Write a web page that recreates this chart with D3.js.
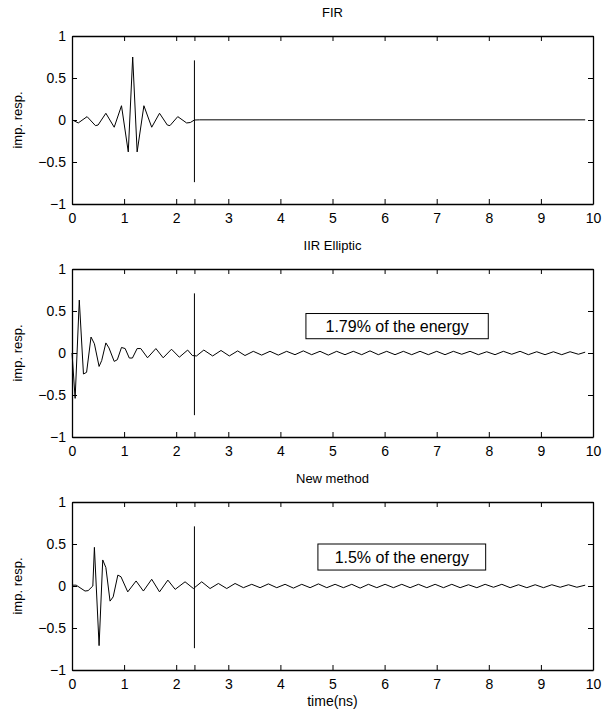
<!DOCTYPE html>
<html>
<head>
<meta charset="utf-8">
<script src="https://cdn.jsdelivr.net/npm/d3@7"></script>
<style>
  body { margin: 0; background: #fff; }
  svg { display: block; }
  text { font-family: "Liberation Sans", Arial, sans-serif; fill: #000; }
</style>
</head>
<body>
<div id="chart"></div>
<script>
// 1. DATA
const panelTitles = ["FIR", "IIR Elliptic", "New method"]
const yLabel = "imp. resp."
const xLabel = "time(ns)"
const energyNotes = [null, "1.79% of the energy", "1.5% of the energy"]

const xTicks = [0, 1, 2, 2.35, 3, 4, 5, 6, 7, 8, 9, 10]
const yTicks = [-1, -0.5, 0, 0.5, 1]

// window edge marker
const markerTime = 2.35
const markerRange = [-0.74, 0.71]

// [time (ns), impulse response]
const firPoints = [
  [0, 0.005], [0.04, -0.01], [0.12, -0.035], [0.29, 0.04], [0.45, -0.067],
  [0.5, -0.06], [0.65, 0.08], [0.81, -0.086], [0.95, 0.17], [1.08, -0.38],
  [1.165, 0.75], [1.25, -0.38], [1.38, 0.17], [1.53, -0.086], [1.68, 0.08],
  [1.83, -0.06], [1.88, -0.067], [2.03, 0.04], [2.2, -0.035], [2.27, -0.03],
  [2.35, 0.0], [2.45, 0.002], [9.85, 0.002]
]

const iirPoints = [
  [0, 0.0], [0.06, -0.54], [0.14, 0.63], [0.22, -0.25], [0.28, -0.23],
  [0.365, 0.19], [0.43, 0.11], [0.52, -0.16], [0.57, -0.09], [0.65, 0.12],
  [0.71, 0.06], [0.81, -0.1], [0.87, -0.08], [0.95, 0.066], [1.02, 0.053],
  [1.1, -0.06], [1.16, -0.06], [1.25, 0.053], [1.32, 0.053], [1.45, -0.057],
  [1.61, 0.053], [1.75, -0.057], [1.91, 0.045], [2.06, -0.05], [2.22, 0.035],
  [2.31, -0.03], [2.39, -0.035], [2.53, 0.035], [2.7, -0.035], [2.86, 0.03],
  [3.02, -0.035], [3.18, 0.025], [3.32, -0.03], [3.48, 0.02], [3.64, -0.025],
  [3.8, 0.02], [3.96, -0.025], [4.12, 0.02], [4.28, -0.02], [4.44, 0.025],
  [4.6, -0.02], [4.76, 0.02], [4.92, -0.025], [5.08, 0.02], [5.24, -0.02],
  [5.4, 0.02], [5.56, -0.02], [5.72, 0.025], [5.88, -0.02], [6.04, 0.02],
  [6.2, -0.02], [6.36, 0.02], [6.52, -0.02], [6.68, 0.02], [6.84, -0.02],
  [7.0, 0.02], [7.16, -0.02], [7.32, 0.02], [7.48, -0.015], [7.64, 0.02],
  [7.8, -0.02], [7.96, 0.015], [8.12, -0.02], [8.28, 0.02], [8.44, -0.015],
  [8.6, 0.02], [8.76, -0.02], [8.92, 0.015], [9.08, -0.02], [9.24, 0.015],
  [9.4, -0.02], [9.56, 0.015], [9.72, -0.015], [9.85, 0.01]
]

const newPoints = [
  [0, 0.01], [0.08, 0.01], [0.25, -0.06], [0.31, -0.055], [0.4, 0.0],
  [0.43, 0.46], [0.52, -0.71], [0.59, 0.31], [0.65, 0.22], [0.73, -0.18],
  [0.79, -0.13], [0.88, 0.13], [0.94, 0.11], [1.07, -0.07], [1.23, 0.06],
  [1.37, -0.06], [1.53, 0.08], [1.68, -0.07], [1.84, 0.07], [1.98, -0.04],
  [2.17, 0.05], [2.33, -0.03], [2.49, 0.05], [2.65, -0.03], [2.81, 0.03],
  [2.97, -0.03], [3.13, 0.03], [3.29, -0.02], [3.45, 0.02], [3.61, -0.02],
  [3.77, 0.025], [3.93, -0.02], [4.09, 0.02], [4.25, -0.025], [4.41, 0.02],
  [4.57, -0.02], [4.73, 0.025], [4.89, -0.02], [5.05, 0.02], [5.21, -0.02],
  [5.37, 0.02], [5.53, -0.025], [5.69, 0.02], [5.85, -0.02], [6.01, 0.02],
  [6.17, -0.02], [6.33, 0.02], [6.49, -0.02], [6.65, 0.02], [6.81, -0.02],
  [6.97, 0.02], [7.13, -0.02], [7.29, 0.02], [7.45, -0.02], [7.61, 0.015],
  [7.77, -0.02], [7.93, 0.02], [8.09, -0.015], [8.25, 0.02], [8.41, -0.02],
  [8.57, 0.015], [8.73, -0.02], [8.89, 0.015], [9.05, -0.02], [9.21, 0.015],
  [9.37, -0.015], [9.53, 0.015], [9.69, -0.015], [9.85, 0.01]
]

const panelSeries = [firPoints, iirPoints, newPoints]

// 2. DIMENSIONS
const dimensions = {
  width: 607,
  height: 710,
  left: 72,
  right: 593,
  panelTops: [36, 269, 502],
  panelHeight: 168,
}

// note boxes, in data units [x0, x1, yTop, yBottom]
const noteBoxes = [null, [4.49, 7.99, 0.47, 0.17], [4.72, 7.94, 0.5, 0.19]]

// 3. DRAW CANVAS
const wrapper = d3.select("#chart")
  .append("svg")
  .attr("width", dimensions.width)
  .attr("height", dimensions.height)

const xScale = d3.scaleLinear()
  .domain([0, 10])
  .range([dimensions.left, dimensions.right])

const xFormat = d => Number.isInteger(d) ? String(d) : ""
const yFormat = d => d < 0 ? "\u2212" + Math.abs(d) : String(d)

panelSeries.forEach((points, i) => {
  const top = dimensions.panelTops[i]
  const bottom = top + dimensions.panelHeight

  const yScale = d3.scaleLinear()
    .domain([-1, 1])
    .range([bottom, top])

  const panel = wrapper.append("g")

  // 4. DRAW DATA
  const lineGenerator = d3.line()
    .x(d => xScale(d[0]))
    .y(d => yScale(d[1]))

  panel.append("path")
    .datum(points)
    .attr("d", lineGenerator)
    .attr("fill", "none")
    .attr("stroke", "#000")
    .attr("stroke-width", 1)

  panel.append("line")
    .attr("x1", xScale(markerTime))
    .attr("x2", xScale(markerTime))
    .attr("y1", yScale(markerRange[1]))
    .attr("y2", yScale(markerRange[0]))
    .attr("stroke", "#000")
    .attr("stroke-width", 1)

  // 5. PERIPHERALS
  const xAxis = panel.append("g")
    .attr("transform", `translate(0,${bottom})`)
    .call(d3.axisBottom(xScale)
      .tickValues(xTicks)
      .tickFormat(xFormat)
      .tickSizeInner(-5)
      .tickSizeOuter(0)
      .tickPadding(9))
  panel.append("g")
    .attr("transform", `translate(0,${top})`)
    .call(d3.axisTop(xScale)
      .tickValues(xTicks)
      .tickFormat("")
      .tickSizeInner(-5)
      .tickSizeOuter(0))
  panel.append("g")
    .attr("transform", `translate(${dimensions.left},0)`)
    .call(d3.axisLeft(yScale)
      .tickValues(yTicks)
      .tickFormat(yFormat)
      .tickSizeInner(-5)
      .tickSizeOuter(0)
      .tickPadding(6))
  panel.append("g")
    .attr("transform", `translate(${dimensions.right},0)`)
    .call(d3.axisRight(yScale)
      .tickValues(yTicks)
      .tickFormat("")
      .tickSizeInner(-5)
      .tickSizeOuter(0))

  panel.selectAll(".domain").attr("stroke", "#000").attr("stroke-width", 1.3)
  panel.selectAll(".tick line").attr("stroke", "#000")
  panel.selectAll(".tick text")
    .style("font-size", "14px")
    .style("font-family", "Liberation Sans, Arial, sans-serif")

  panel.append("text")
    .attr("x", (dimensions.left + dimensions.right) / 2)
    .attr("y", top - 19)
    .attr("text-anchor", "middle")
    .style("font-size", "13px")
    .text(panelTitles[i])

  panel.append("text")
    .attr("transform", `translate(22,${(top + bottom) / 2}) rotate(-90)`)
    .attr("text-anchor", "middle")
    .style("font-size", "13px")
    .text(yLabel)

  if (energyNotes[i]) {
    const b = noteBoxes[i]
    panel.append("rect")
      .attr("x", xScale(b[0]))
      .attr("y", yScale(b[2]))
      .attr("width", xScale(b[1]) - xScale(b[0]))
      .attr("height", yScale(b[3]) - yScale(b[2]))
      .attr("fill", "#fff")
      .attr("stroke", "#000")
      .attr("stroke-width", 1)
    panel.append("text")
      .attr("x", (xScale(b[0]) + xScale(b[1])) / 2)
      .attr("y", (yScale(b[2]) + yScale(b[3])) / 2)
      .attr("dy", "0.36em")
      .attr("text-anchor", "middle")
      .style("font-size", "16px")
      .text(energyNotes[i])
  }

  if (i === panelSeries.length - 1) {
    xAxis.append("text")
      .attr("x", (dimensions.left + dimensions.right) / 2)
      .attr("y", 36)
      .attr("text-anchor", "middle")
      .style("font-size", "14px")
      .attr("fill", "#000")
      .text(xLabel)
  }
})
</script>
</body>
</html>
